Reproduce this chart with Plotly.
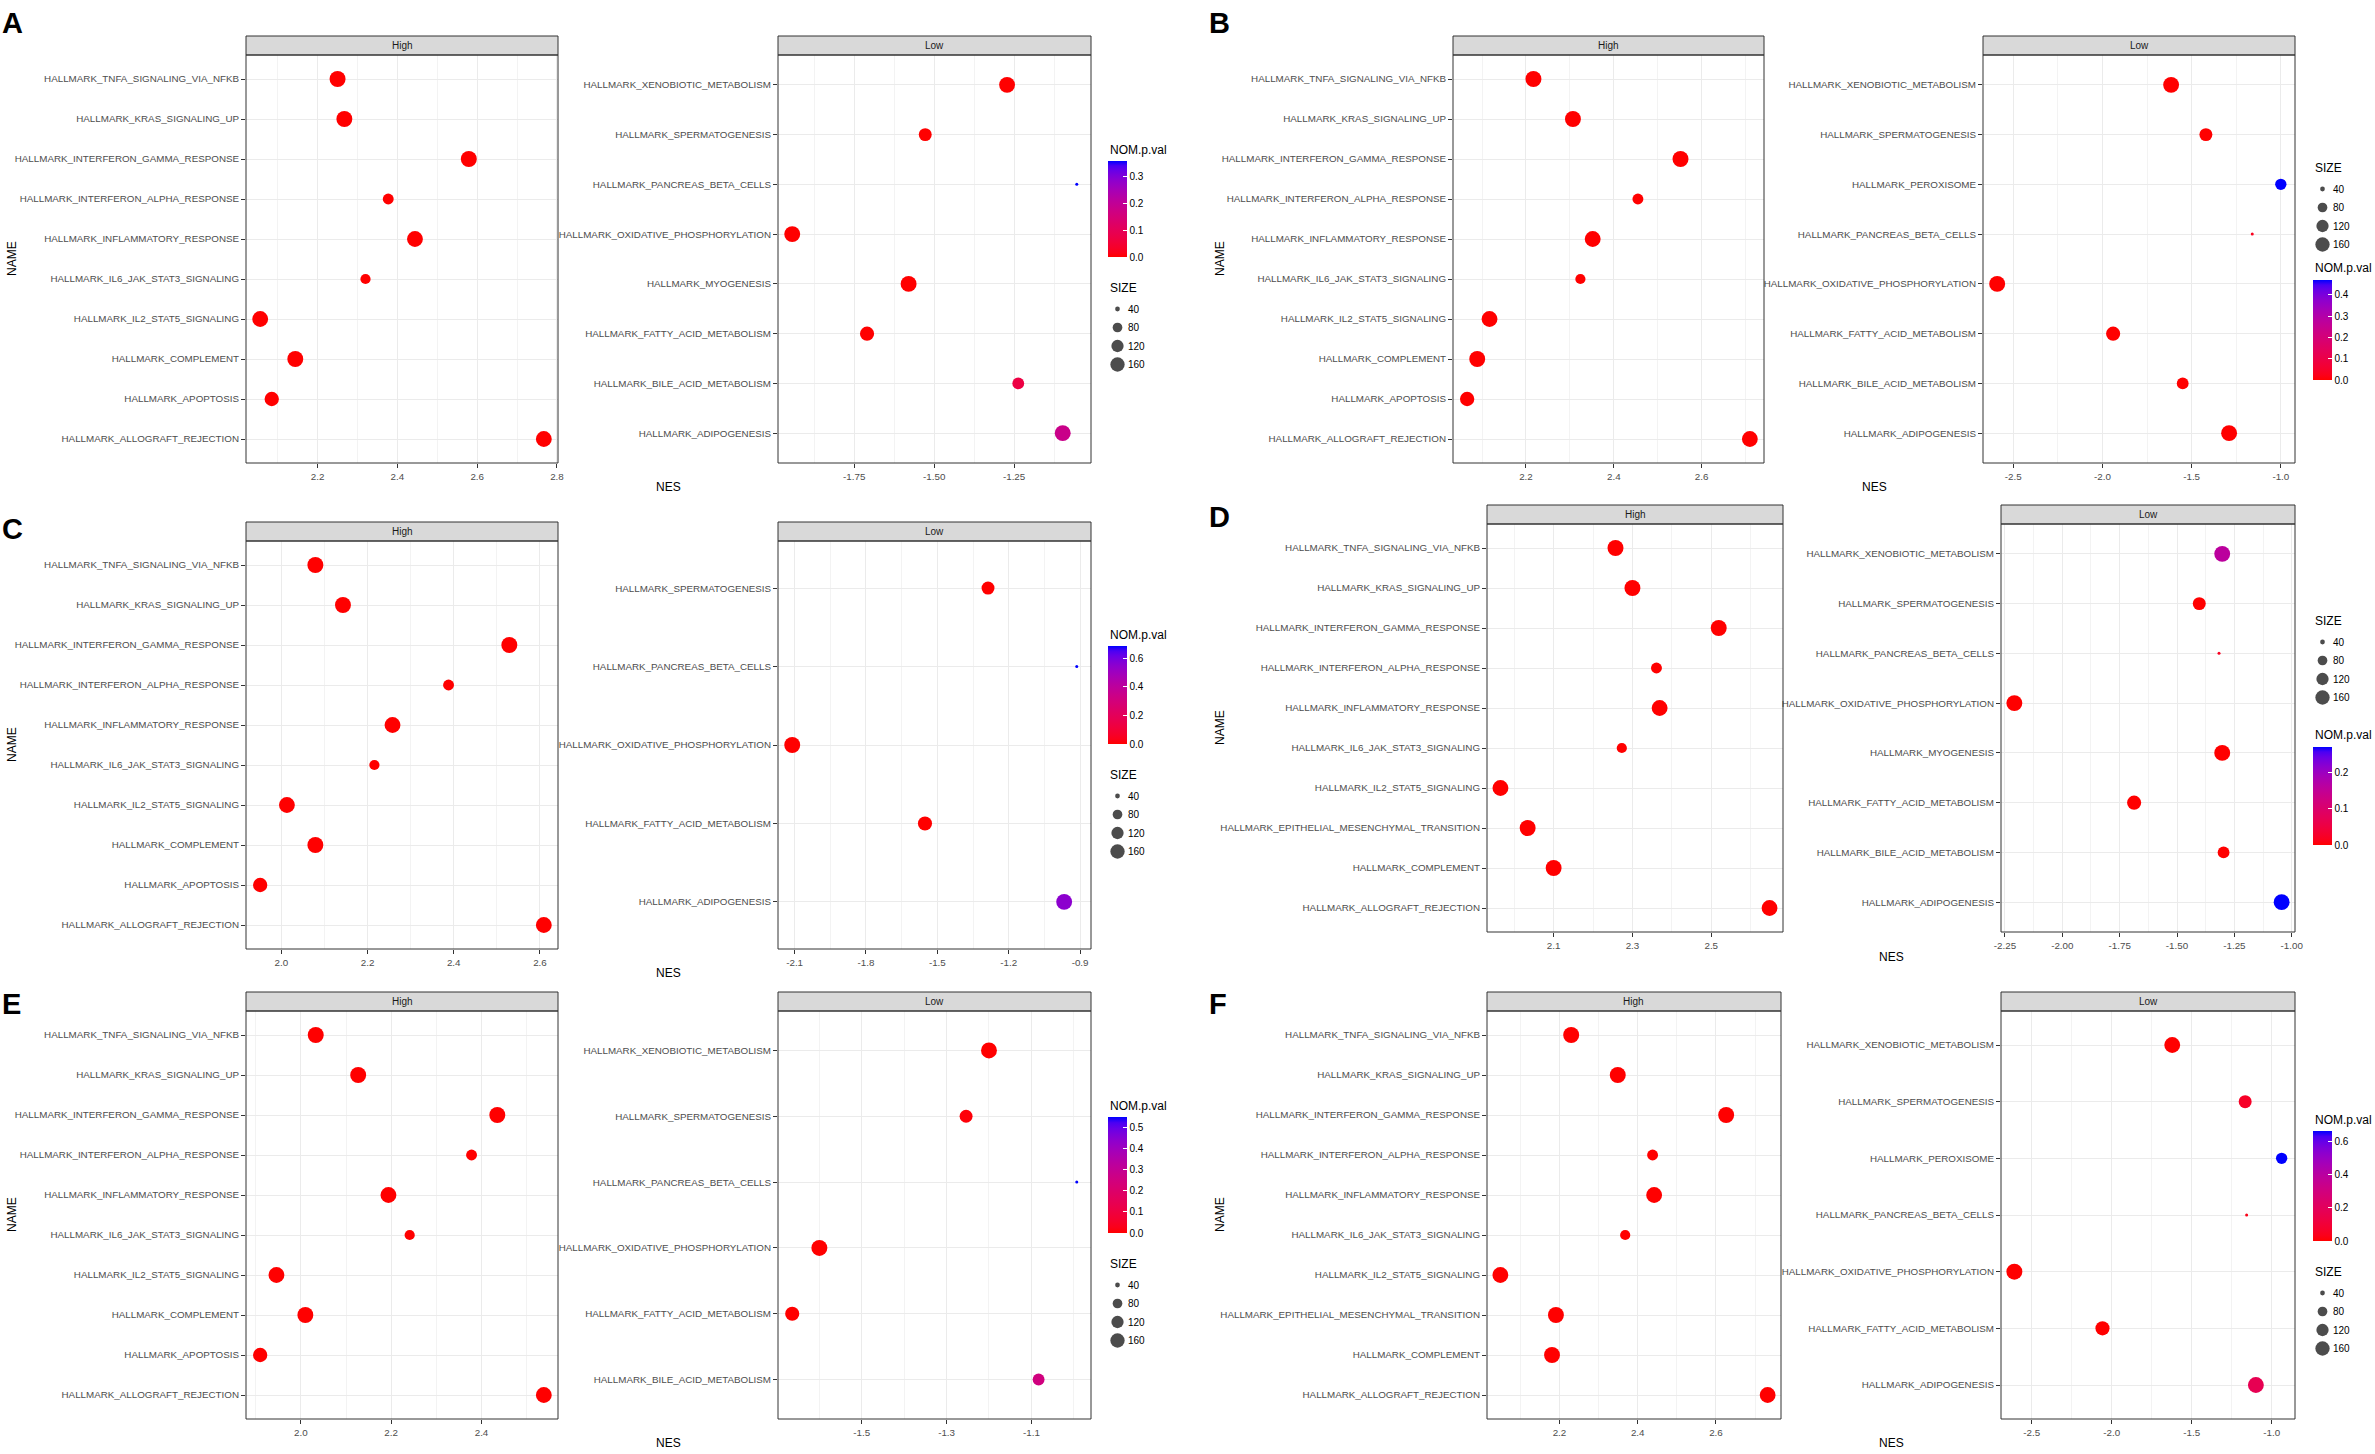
import plotly.graph_objects as go

W, H = 2375, 1454
FONT = "Liberation Sans, Arial, Helvetica, sans-serif"

# ---------------- data ----------------
HIGH_NAMES = [
    "HALLMARK_TNFA_SIGNALING_VIA_NFKB", "HALLMARK_KRAS_SIGNALING_UP",
    "HALLMARK_INTERFERON_GAMMA_RESPONSE", "HALLMARK_INTERFERON_ALPHA_RESPONSE",
    "HALLMARK_INFLAMMATORY_RESPONSE", "HALLMARK_IL6_JAK_STAT3_SIGNALING",
    "HALLMARK_IL2_STAT5_SIGNALING", "HALLMARK_COMPLEMENT",
    "HALLMARK_APOPTOSIS", "HALLMARK_ALLOGRAFT_REJECTION"]
HIGH_NAMES_EMT = [
    "HALLMARK_TNFA_SIGNALING_VIA_NFKB", "HALLMARK_KRAS_SIGNALING_UP",
    "HALLMARK_INTERFERON_GAMMA_RESPONSE", "HALLMARK_INTERFERON_ALPHA_RESPONSE",
    "HALLMARK_INFLAMMATORY_RESPONSE", "HALLMARK_IL6_JAK_STAT3_SIGNALING",
    "HALLMARK_IL2_STAT5_SIGNALING", "HALLMARK_EPITHELIAL_MESENCHYMAL_TRANSITION",
    "HALLMARK_COMPLEMENT", "HALLMARK_ALLOGRAFT_REJECTION"]
HIGH_SIZE = [199, 198, 199, 97, 196, 87, 196, 197, 160, 195]
HIGH_SIZE_EMT = [199, 198, 199, 97, 196, 87, 196, 198, 197, 195]
HIGH_PVAL = [0.0, 0.0, 0.0, 0.0, 0.0, 0.0, 0.0, 0.0, 0.0, 0.0]

SIZE_BREAKS = [40, 80, 120, 160]

# Panel A
A_HIGH_NES = [2.250, 2.267, 2.579, 2.377, 2.444, 2.320, 2.056, 2.144, 2.085, 2.767]
A_LOW_NAMES = ["HALLMARK_XENOBIOTIC_METABOLISM", "HALLMARK_SPERMATOGENESIS",
               "HALLMARK_PANCREAS_BETA_CELLS", "HALLMARK_OXIDATIVE_PHOSPHORYLATION",
               "HALLMARK_MYOGENESIS", "HALLMARK_FATTY_ACID_METABOLISM",
               "HALLMARK_BILE_ACID_METABOLISM", "HALLMARK_ADIPOGENESIS"]
A_LOW_NES = [-1.272, -1.528, -1.054, -1.944, -1.580, -1.710, -1.237, -1.098]
A_LOW_SIZE = [196, 132, 37, 198, 197, 156, 112, 196]
A_LOW_PVAL = [0.0, 0.0, 0.357, 0.0, 0.0, 0.0, 0.07, 0.18]
A_HIGH_TICKS = ["2.2", "2.4", "2.6", "2.8"]
A_LOW_TICKS = ["-1.75", "-1.50", "-1.25"]
A_PVAL_TICKS = ["0.0", "0.1", "0.2", "0.3"]

# Panel B
B_HIGH_NES = [2.217, 2.307, 2.552, 2.455, 2.352, 2.324, 2.117, 2.089, 2.066, 2.710]
B_LOW_NAMES = ["HALLMARK_XENOBIOTIC_METABOLISM", "HALLMARK_SPERMATOGENESIS",
               "HALLMARK_PEROXISOME", "HALLMARK_PANCREAS_BETA_CELLS",
               "HALLMARK_OXIDATIVE_PHOSPHORYLATION", "HALLMARK_FATTY_ACID_METABOLISM",
               "HALLMARK_BILE_ACID_METABOLISM", "HALLMARK_ADIPOGENESIS"]
B_LOW_NES = [-1.615, -1.420, -1.000, -1.160, -2.590, -1.940, -1.550, -1.290]
B_LOW_SIZE = [196, 132, 103, 37, 198, 156, 112, 196]
B_LOW_PVAL = [0.0, 0.0, 0.47, 0.03, 0.0, 0.0, 0.0, 0.0]
B_HIGH_TICKS = ["2.2", "2.4", "2.6"]
B_LOW_TICKS = ["-2.5", "-2.0", "-1.5", "-1.0"]
B_PVAL_TICKS = ["0.0", "0.1", "0.2", "0.3", "0.4"]

# Panel C
C_HIGH_NES = [2.079, 2.143, 2.529, 2.388, 2.258, 2.216, 2.013, 2.079, 1.951, 2.609]
C_LOW_NAMES = ["HALLMARK_SPERMATOGENESIS", "HALLMARK_PANCREAS_BETA_CELLS",
               "HALLMARK_OXIDATIVE_PHOSPHORYLATION", "HALLMARK_FATTY_ACID_METABOLISM",
               "HALLMARK_ADIPOGENESIS"]
C_LOW_NES = [-1.287, -0.914, -2.110, -1.552, -0.967]
C_LOW_SIZE = [132, 37, 198, 156, 196]
C_LOW_PVAL = [0.0, 0.686, 0.0, 0.0, 0.55]
C_HIGH_TICKS = ["2.0", "2.2", "2.4", "2.6"]
C_LOW_TICKS = ["-2.1", "-1.8", "-1.5", "-1.2", "-0.9"]
C_PVAL_TICKS = ["0.0", "0.2", "0.4", "0.6"]

# Panel D
D_HIGH_NES = [2.257, 2.300, 2.519, 2.361, 2.369, 2.273, 1.965, 2.034, 2.100, 2.648]
D_LOW_NAMES = ["HALLMARK_XENOBIOTIC_METABOLISM", "HALLMARK_SPERMATOGENESIS",
               "HALLMARK_PANCREAS_BETA_CELLS", "HALLMARK_OXIDATIVE_PHOSPHORYLATION",
               "HALLMARK_MYOGENESIS", "HALLMARK_FATTY_ACID_METABOLISM",
               "HALLMARK_BILE_ACID_METABOLISM", "HALLMARK_ADIPOGENESIS"]
D_LOW_NES = [-1.303, -1.403, -1.317, -2.209, -1.303, -1.687, -1.297, -1.044]
D_LOW_SIZE = [196, 132, 37, 198, 197, 156, 112, 196]
D_LOW_PVAL = [0.16, 0.0, 0.02, 0.0, 0.0, 0.0, 0.0, 0.27]
D_HIGH_TICKS = ["2.1", "2.3", "2.5"]
D_LOW_TICKS = ["-2.25", "-2.00", "-1.75", "-1.50", "-1.25", "-1.00"]
D_PVAL_TICKS = ["0.0", "0.1", "0.2"]

# Panel E
E_HIGH_NES = [2.033, 2.127, 2.435, 2.378, 2.194, 2.241, 1.946, 2.010, 1.910, 2.538]
E_LOW_NAMES = ["HALLMARK_XENOBIOTIC_METABOLISM", "HALLMARK_SPERMATOGENESIS",
               "HALLMARK_PANCREAS_BETA_CELLS", "HALLMARK_OXIDATIVE_PHOSPHORYLATION",
               "HALLMARK_FATTY_ACID_METABOLISM", "HALLMARK_BILE_ACID_METABOLISM"]
E_LOW_NES = [-1.200, -1.254, -0.993, -1.600, -1.664, -1.083]
E_LOW_SIZE = [196, 132, 37, 198, 156, 112]
E_LOW_PVAL = [0.0, 0.01, 0.55, 0.0, 0.0, 0.25]
E_HIGH_TICKS = ["2.0", "2.2", "2.4"]
E_LOW_TICKS = ["-1.5", "-1.3", "-1.1"]
E_PVAL_TICKS = ["0.0", "0.1", "0.2", "0.3", "0.4", "0.5"]

# Panel F
F_HIGH_NES = [2.230, 2.349, 2.626, 2.438, 2.442, 2.368, 2.049, 2.191, 2.181, 2.732]
F_LOW_NAMES = ["HALLMARK_XENOBIOTIC_METABOLISM", "HALLMARK_SPERMATOGENESIS",
               "HALLMARK_PEROXISOME", "HALLMARK_PANCREAS_BETA_CELLS",
               "HALLMARK_OXIDATIVE_PHOSPHORYLATION", "HALLMARK_FATTY_ACID_METABOLISM",
               "HALLMARK_ADIPOGENESIS"]
F_LOW_NES = [-1.622, -1.166, -0.938, -1.157, -2.609, -2.058, -1.099]
F_LOW_SIZE = [196, 132, 103, 37, 198, 156, 196]
F_LOW_PVAL = [0.0, 0.06, 0.66, 0.03, 0.0, 0.0, 0.17]
F_HIGH_TICKS = ["2.2", "2.4", "2.6"]
F_LOW_TICKS = ["-2.5", "-2.0", "-1.5", "-1.0"]
F_PVAL_TICKS = ["0.0", "0.2", "0.4", "0.6"]

PANELS = [
    dict(label="A", high_names=HIGH_NAMES, high_nes=A_HIGH_NES, high_size=HIGH_SIZE,
         low_names=A_LOW_NAMES, low_nes=A_LOW_NES, low_size=A_LOW_SIZE, low_pval=A_LOW_PVAL,
         high_ticks=A_HIGH_TICKS, low_ticks=A_LOW_TICKS, pval_ticks=A_PVAL_TICKS),
    dict(label="B", high_names=HIGH_NAMES, high_nes=B_HIGH_NES, high_size=HIGH_SIZE,
         low_names=B_LOW_NAMES, low_nes=B_LOW_NES, low_size=B_LOW_SIZE, low_pval=B_LOW_PVAL,
         high_ticks=B_HIGH_TICKS, low_ticks=B_LOW_TICKS, pval_ticks=B_PVAL_TICKS),
    dict(label="C", high_names=HIGH_NAMES, high_nes=C_HIGH_NES, high_size=HIGH_SIZE,
         low_names=C_LOW_NAMES, low_nes=C_LOW_NES, low_size=C_LOW_SIZE, low_pval=C_LOW_PVAL,
         high_ticks=C_HIGH_TICKS, low_ticks=C_LOW_TICKS, pval_ticks=C_PVAL_TICKS),
    dict(label="D", high_names=HIGH_NAMES_EMT, high_nes=D_HIGH_NES, high_size=HIGH_SIZE_EMT,
         low_names=D_LOW_NAMES, low_nes=D_LOW_NES, low_size=D_LOW_SIZE, low_pval=D_LOW_PVAL,
         high_ticks=D_HIGH_TICKS, low_ticks=D_LOW_TICKS, pval_ticks=D_PVAL_TICKS),
    dict(label="E", high_names=HIGH_NAMES, high_nes=E_HIGH_NES, high_size=HIGH_SIZE,
         low_names=E_LOW_NAMES, low_nes=E_LOW_NES, low_size=E_LOW_SIZE, low_pval=E_LOW_PVAL,
         high_ticks=E_HIGH_TICKS, low_ticks=E_LOW_TICKS, pval_ticks=E_PVAL_TICKS),
    dict(label="F", high_names=HIGH_NAMES_EMT, high_nes=F_HIGH_NES, high_size=HIGH_SIZE_EMT,
         low_names=F_LOW_NAMES, low_nes=F_LOW_NES, low_size=F_LOW_SIZE, low_pval=F_LOW_PVAL,
         high_ticks=F_HIGH_TICKS, low_ticks=F_LOW_TICKS, pval_ticks=F_PVAL_TICKS),
]

# ---------------- layout geometry (pixels) ----------------
GEOM = {
    "A": dict(hx=(246, 558), lx=(778, 1091), strip_top=36, top=55, bottom=463, nes_y=487,
              letter=(0, 23), name_x=12, leg_x=1108, leg_top=150, order="nom", bar_h=96),
    "B": dict(hx=(1453, 1764), lx=(1983, 2295), strip_top=36, top=55, bottom=463, nes_y=487,
              letter=(1207, 23), name_x=1220, leg_x=2313, leg_top=168, order="size", bar_h=100,
              nom_off=100, bar_off=112),
    "C": dict(hx=(246, 558), lx=(778, 1091), strip_top=522, top=541, bottom=949, nes_y=973,
              letter=(0, 529), name_x=12, leg_x=1108, leg_top=635, order="nom", bar_h=98),
    "D": dict(hx=(1487, 1783), lx=(2001, 2295), strip_top=505, top=524, bottom=932, nes_y=957,
              letter=(1207, 517), name_x=1220, leg_x=2313, leg_top=621, order="size", bar_h=98,
              nom_off=114, bar_off=126),
    "E": dict(hx=(246, 558), lx=(778, 1091), strip_top=992, top=1011, bottom=1419, nes_y=1443,
              letter=(0, 1004), name_x=12, leg_x=1108, leg_top=1106, order="nom", bar_h=116),
    "F": dict(hx=(1487, 1781), lx=(2001, 2295), strip_top=992, top=1011, bottom=1419, nes_y=1443,
              letter=(1207, 1004), name_x=1220, leg_x=2313, leg_top=1120, order="nom", bar_h=110),
}

D_MIN, D_MAX = 3.0, 16.0


# ---------------- colour scale: ggplot red->blue gradient in Lab ----------------
def _lin(c):
    c = c / 255.0
    return c / 12.92 if c <= 0.04045 else ((c + 0.055) / 1.055) ** 2.4


def _unlin(c):
    c = max(0.0, min(1.0, c))
    v = 12.92 * c if c <= 0.0031308 else 1.055 * c ** (1 / 2.4) - 0.055
    return int(round(v * 255))


def rgb2lab(rgb):
    r, g, b = [_lin(v) for v in rgb]
    X = (0.4124 * r + 0.3576 * g + 0.1805 * b) / 0.95047
    Y = 0.2126 * r + 0.7152 * g + 0.0722 * b
    Z = (0.0193 * r + 0.1192 * g + 0.9505 * b) / 1.08883
    f = lambda t: t ** (1 / 3) if t > 0.008856 else 7.787 * t + 16 / 116
    fx, fy, fz = f(X), f(Y), f(Z)
    return (116 * fy - 16, 500 * (fx - fy), 200 * (fy - fz))


def lab2rgb(lab):
    L, a, b = lab
    fy = (L + 16) / 116
    fx = fy + a / 500
    fz = fy - b / 200
    fi = lambda t: t ** 3 if t ** 3 > 0.008856 else (t - 16 / 116) / 7.787
    X, Y, Z = 0.95047 * fi(fx), fi(fy), 1.08883 * fi(fz)
    r = 3.2406 * X - 1.5372 * Y - 0.4986 * Z
    g = -0.9689 * X + 1.8758 * Y + 0.0415 * Z
    bb = 0.0557 * X - 0.2040 * Y + 1.0570 * Z
    return "rgb(%d,%d,%d)" % (_unlin(r), _unlin(g), _unlin(bb))


L1, L2 = rgb2lab((255, 0, 0)), rgb2lab((0, 0, 255))
CSCALE = [[i / 20, lab2rgb(tuple(L1[k] + (L2[k] - L1[k]) * i / 20 for k in range(3)))]
          for i in range(21)]


def px2x(p):
    return p / W


def py2y(p):
    return 1 - p / H


def diam(vals, smin, smax):
    return [D_MIN + (D_MAX - D_MIN) * (max(0.0, (v - smin) / (smax - smin))) ** 0.5 for v in vals]


def xrange(vals):
    lo, hi = min(vals), max(vals)
    e = 0.05 * (hi - lo)
    return [lo - e, hi + e]


def minors(ticks, rng):
    t = [float(s) for s in ticks]
    d = t[1] - t[0] if len(t) > 1 else 0.2
    cand = [t[0] - d / 2] + [v + d / 2 for v in t]
    return [c for c in cand if rng[0] <= c <= rng[1]]


fig = go.Figure()
layout = dict(width=W, height=H,
              margin=dict(l=0, r=0, t=0, b=0, autoexpand=False),
              paper_bgcolor="white", plot_bgcolor="white", showlegend=False,
              font=dict(family=FONT, color="black"), hovermode=False)
shapes, annots = [], []

TICKFONT = dict(family=FONT, size=9.8, color="#4D4D4D")


def data_axes(k, xr, ticks, names, x0, x1, top, bottom):
    xs = "xaxis" if k == 1 else "xaxis%d" % k
    ys = "yaxis" if k == 1 else "yaxis%d" % k
    xref = "x" if k == 1 else "x%d" % k
    yref = "y" if k == 1 else "y%d" % k
    layout[xs] = dict(domain=[px2x(x0), px2x(x1)], anchor=yref, range=xr,
                      tickmode="array", tickvals=[float(s) for s in ticks], ticktext=ticks,
                      ticks="outside", ticklen=4, tickwidth=1, tickcolor="#333333",
                      tickfont=TICKFONT, showgrid=True, gridcolor="#EBEBEB", gridwidth=1,
                      minor=dict(tickmode="array", tickvals=minors(ticks, xr), showgrid=True,
                                 gridcolor="#EEEEEE", gridwidth=0.7, ticks=""),
                      zeroline=False, showline=False, automargin=False, fixedrange=True)
    n = len(names)
    layout[ys] = dict(domain=[py2y(bottom), py2y(top)], anchor=xref, type="category",
                      categoryorder="array", categoryarray=list(reversed(names)),
                      range=[-0.6, n - 0.4], ticks="outside", ticklen=4, tickwidth=1,
                      tickcolor="#333333", tickfont=TICKFONT, showgrid=True,
                      gridcolor="#EBEBEB", gridwidth=1, zeroline=False, showline=False,
                      automargin=False, fixedrange=True)
    return xref, yref


for i, p in enumerate(PANELS):
    g = GEOM[p["label"]]
    all_sizes = p["high_size"] + p["low_size"]
    smin, smax = min(all_sizes), max(all_sizes)
    pmax = max(HIGH_PVAL + p["low_pval"])
    kh, kl, kg = 2 * i + 1, 2 * i + 2, 13 + i

    # High facet
    xr_h = xrange(p["high_nes"])
    xh, yh = data_axes(kh, xr_h, p["high_ticks"], p["high_names"], g["hx"][0], g["hx"][1],
                       g["top"], g["bottom"])
    fig.add_trace(go.Scatter(
        x=p["high_nes"], y=p["high_names"], mode="markers", xaxis=xh, yaxis=yh,
        marker=dict(size=diam(p["high_size"], smin, smax), color=HIGH_PVAL,
                    colorscale=CSCALE, cmin=0, cmax=pmax, opacity=1, line=dict(width=0),
                    showscale=False)))

    # Low facet (carries colourbar)
    xr_l = xrange(p["low_nes"])
    xl, yl = data_axes(kl, xr_l, p["low_ticks"], p["low_names"], g["lx"][0], g["lx"][1],
                       g["top"], g["bottom"])
    L = g["leg_top"]
    if g["order"] == "nom":
        nom_title_y = L
        bar_top = L + 11
        size_title_y = bar_top + g["bar_h"] + 31
    else:
        size_title_y = L
        nom_title_y = L + g["nom_off"]
        bar_top = L + g["bar_off"]
    item0 = size_title_y + 21
    sp = 18.5

    fig.add_trace(go.Scatter(
        x=p["low_nes"], y=p["low_names"], mode="markers", xaxis=xl, yaxis=yl,
        marker=dict(size=diam(p["low_size"], smin, smax), color=p["low_pval"],
                    colorscale=CSCALE, cmin=0, cmax=pmax, opacity=1, line=dict(width=0),
                    showscale=True,
                    colorbar=dict(x=px2x(g["leg_x"]), xanchor="left", xpad=0,
                                  y=py2y(bar_top), yanchor="top", ypad=0,
                                  len=g["bar_h"], lenmode="pixels",
                                  thickness=19, thicknessmode="pixels", outlinewidth=0,
                                  tickmode="array",
                                  tickvals=[float(s) for s in p["pval_ticks"]],
                                  ticktext=p["pval_ticks"], ticks="inside",
                                  tickcolor="white", ticklen=4, tickwidth=1,
                                  tickfont=dict(family=FONT, size=10, color="black")))))

    # size legend as its own tiny axis
    xs = "xaxis%d" % kg
    ys = "yaxis%d" % kg
    cats = [str(b) for b in SIZE_BREAKS]
    layout[xs] = dict(domain=[px2x(g["leg_x"]), px2x(g["leg_x"] + 19)], anchor="y%d" % kg,
                      range=[-1, 1], visible=False, fixedrange=True)
    layout[ys] = dict(domain=[py2y(item0 + 3 * sp + sp / 2), py2y(item0 - sp / 2)],
                      anchor="x%d" % kg, type="category", categoryorder="array",
                      categoryarray=list(reversed(cats)), range=[-0.5, 3.5], side="right",
                      showgrid=False, zeroline=False, showline=False, ticks="",
                      tickfont=dict(family=FONT, size=10, color="black"),
                      automargin=False, fixedrange=True)
    fig.add_trace(go.Scatter(
        x=[0] * len(cats), y=cats, mode="markers", xaxis="x%d" % kg, yaxis="y%d" % kg,
        marker=dict(size=diam(SIZE_BREAKS, smin, smax), color="black", line=dict(width=0))))

    # legend titles
    for txt, yy in (("NOM.p.val", nom_title_y), ("SIZE", size_title_y)):
        annots.append(dict(text=txt, x=px2x(g["leg_x"]), y=py2y(yy), xref="paper",
                           yref="paper", xanchor="left", yanchor="middle", showarrow=False,
                           font=dict(family=FONT, size=12, color="black")))

    # panel borders and strips
    for (x0, x1), lab in ((g["hx"], "High"), (g["lx"], "Low")):
        shapes.append(dict(type="rect", xref="paper", yref="paper",
                           x0=px2x(x0), x1=px2x(x1), y0=py2y(g["top"]), y1=py2y(g["strip_top"]),
                           fillcolor="#D9D9D9", line=dict(color="#333333", width=1),
                           layer="above"))
        shapes.append(dict(type="rect", xref="paper", yref="paper",
                           x0=px2x(x0), x1=px2x(x1), y0=py2y(g["bottom"]), y1=py2y(g["top"]),
                           fillcolor="rgba(0,0,0,0)", line=dict(color="#333333", width=1),
                           layer="above"))
        annots.append(dict(text=lab, x=px2x((x0 + x1) / 2),
                           y=py2y((g["top"] + g["strip_top"]) / 2), xref="paper",
                           yref="paper", xanchor="center", yanchor="middle", showarrow=False,
                           font=dict(family=FONT, size=10, color="#1A1A1A")))

    # axis titles
    annots.append(dict(text="NES", x=px2x((g["hx"][0] + g["lx"][1]) / 2), y=py2y(g["nes_y"]),
                       xref="paper", yref="paper", xanchor="center", yanchor="middle",
                       showarrow=False, font=dict(family=FONT, size=12, color="black")))
    annots.append(dict(text="NAME", x=px2x(g["name_x"]), y=py2y((g["top"] + g["bottom"]) / 2),
                       xref="paper", yref="paper", xanchor="center", yanchor="middle",
                       textangle=-90, showarrow=False,
                       font=dict(family=FONT, size=12, color="black")))
    # panel letter
    annots.append(dict(text="<b>%s</b>" % p["label"], x=px2x(g["letter"][0]),
                       y=py2y(g["letter"][1]), xref="paper", yref="paper", xanchor="left",
                       yanchor="middle", showarrow=False,
                       font=dict(family=FONT, size=29, color="black")))

layout["shapes"] = shapes
layout["annotations"] = annots
fig.update_layout(**layout)

fig.write_html("out.html", include_plotlyjs=True, full_html=True,
               config=dict(displayModeBar=False, staticPlot=True),
               post_script="document.body.style.margin='0px';")
